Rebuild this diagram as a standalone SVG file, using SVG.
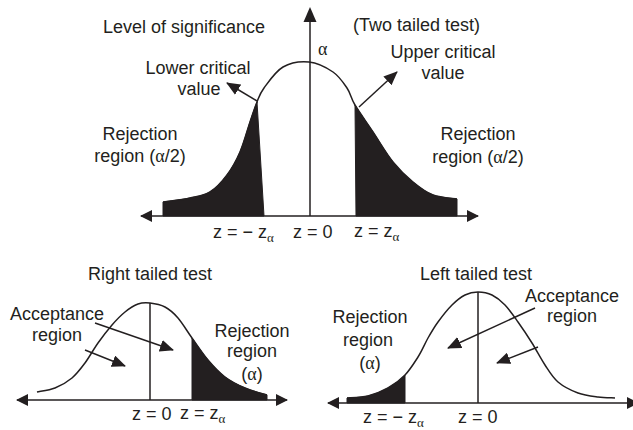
<svg xmlns="http://www.w3.org/2000/svg" width="633" height="430" viewBox="0 0 633 430">
<defs>
<style>
text{font-family:"Liberation Sans",Arial,sans-serif;font-size:18px;fill:#231f20}
.g{font-family:"Liberation Serif","DejaVu Serif",serif}
.sub{font-family:"Liberation Serif","DejaVu Serif",serif;font-size:13px}
.m{text-anchor:middle}
.ln{fill:none;stroke:#231f20;stroke-width:1.5}
.fill{fill:#231f20;stroke:#231f20;stroke-width:1}
.ax{fill:none;stroke:#231f20;stroke-width:1.6;marker-start:url(#axh);marker-end:url(#axh)}
.ar{fill:none;stroke:#231f20;stroke-width:1.5;marker-end:url(#ah)}
</style>
<marker id="ah" viewBox="0 0 14 12" refX="13" refY="6" markerUnits="userSpaceOnUse" markerWidth="14" markerHeight="12" orient="auto"><path d="M0,0 L14,6 L0,12 Z" fill="#231f20"/></marker>
<marker id="axh" viewBox="0 0 12 12" refX="11" refY="6" markerUnits="userSpaceOnUse" markerWidth="12" markerHeight="12" orient="auto-start-reverse"><path d="M0,0 L12,6 L0,12 Z" fill="#231f20"/></marker>
</defs>

<g id="two-tailed">
<path class="fill" d="M163,216 L163,202 C167.5,201.3 182.2,199.7 190,198 C197.8,196.3 203.8,195.8 210,192 C216.2,188.2 222,181.7 227,175 C232,168.3 236.2,160.8 240,152 C243.8,143.2 247.2,130.3 250,122 C252.8,113.7 254.7,107.7 257,102 L264,216 Z"/>
<path class="fill" d="M356,216 L355,105 C359.3,112.3 366.7,122.5 373,132 C379.3,141.5 386.3,153.7 393,162 C399.7,170.3 406.3,176.5 413,182 C419.7,187.5 425.7,192.2 433,195 C440.3,197.8 453,198.3 457,199 L457,216 Z"/>
<path class="ln" d="M163,202 C167.5,201.3 182.2,199.7 190,198 C197.8,196.3 203.8,195.8 210,192 C216.2,188.2 222,181.7 227,175 C232,168.3 236.2,160.8 240,152 C243.8,143.2 247.2,130.3 250,122 C252.8,113.7 254.7,107.7 257,102 C259.3,96.3 259.7,93.8 264,88 C268.3,82.2 275.5,71.3 283,67 C290.5,62.7 300.7,61.2 309,62 C317.3,62.8 326.7,67.7 333,72 C339.3,76.3 343.3,82.5 347,88 C350.7,93.5 350.7,97.7 355,105 C359.3,112.3 366.7,122.5 373,132 C379.3,141.5 386.3,153.7 393,162 C399.7,170.3 406.3,176.5 413,182 C419.7,187.5 425.7,192.2 433,195 C440.3,197.8 453,198.3 457,199"/>
<line class="ax" x1="141" y1="216" x2="478" y2="216"/>
<line x1="310" y1="216" x2="310" y2="20" stroke="#231f20" stroke-width="1.5"/>
<path d="M310,7 L303.5,22 L316.5,22 Z" fill="#231f20"/>
<text x="103" y="33">Level of significance</text>
<text x="353" y="31">(Two tailed test)</text>
<text class="g" x="318" y="55" font-size="15">α</text>
<text class="m" x="198" y="74">Lower critical</text>
<text class="m" x="199" y="95">value</text>
<text class="m" x="443" y="58">Upper critical</text>
<text class="m" x="443" y="79">value</text>
<text class="m" x="140" y="140">Rejection</text>
<text class="m" x="140" y="162">region (<tspan class="g">α</tspan>/2)</text>
<text class="m" x="478" y="140">Rejection</text>
<text class="m" x="478" y="163">region (<tspan class="g">α</tspan>/2)</text>
<text x="213" y="238">z = − z<tspan class="sub" dy="4">α</tspan></text>
<text x="293" y="238">z = 0</text>
<text x="354" y="237">z = z<tspan class="sub" dy="4">α</tspan></text>
</g>

<g id="right-tailed">
<path class="fill" d="M192,400 L192,338 C197,345 202.5,353.5 208,360 C213.5,366.5 218.8,372.3 225,377 C231.2,381.7 238,385 245,388 C252,391 263.3,393.8 267,395 L267,400 Z"/>
<path class="ln" d="M37,392 C40,391.3 49.2,390.3 55,388 C60.8,385.7 67,382.2 72,378 C77,373.8 80.7,368.8 85,363 C89.3,357.2 93.5,349.3 98,343 C102.5,336.7 107.5,330.2 112,325 C116.5,319.8 120.7,315.5 125,312 C129.3,308.5 133.8,305.5 138,304 C142.2,302.5 145.5,302.5 150,303 C154.5,303.5 160.3,304.5 165,307 C169.7,309.5 173.5,312.8 178,318 C182.5,323.2 187,331 192,338 C197,345 202.5,353.5 208,360 C213.5,366.5 218.8,372.3 225,377 C231.2,381.7 238,385 245,388 C252,391 263.3,393.8 267,395"/>
<line class="ax" x1="17" y1="400" x2="287" y2="400"/>
<line x1="150" y1="400" x2="150" y2="303" stroke="#231f20" stroke-width="1.5"/>
<text x="88" y="280">Right tailed test</text>
<text class="m" x="57" y="320">Acceptance</text>
<text class="m" x="57" y="341">region</text>
<text class="m" x="252" y="337">Rejection</text>
<text class="m" x="252" y="357">region</text>
<text class="m" x="252" y="380">(<tspan class="g">α</tspan>)</text>
<text x="132" y="420">z = 0</text>
<text x="180" y="419">z = z<tspan class="sub" dy="4">α</tspan></text>
</g>

<g id="left-tailed">
<path class="fill" d="M347,403 L347,398 C350.5,397.7 361.2,397.7 368,396 C374.8,394.3 381.8,391.5 388,388 C394.2,384.5 400,380.2 405,375 L405,403 Z"/>
<path class="ln" d="M347,398 C350.5,397.7 361.2,397.7 368,396 C374.8,394.3 381.8,391.5 388,388 C394.2,384.5 400,380.2 405,375 C410,369.8 414,363.2 418,357 C422,350.8 424.7,343.8 428,338 C431.3,332.2 434,327.5 438,322 C442,316.5 447.5,309.5 452,305 C456.5,300.5 460.7,297.2 465,295 C469.3,292.8 473.5,292 478,292 C482.5,292 487.5,292.8 492,295 C496.5,297.2 500.7,300.5 505,305 C509.3,309.5 513.5,315.7 518,322 C522.5,328.3 527.5,335.8 532,343 C536.5,350.2 540.7,358.5 545,365 C549.3,371.5 552.5,377.3 558,382 C563.5,386.7 571.3,390.5 578,393 C584.7,395.5 591.8,396.2 598,397 C604.2,397.8 612.2,397.8 615,398"/>
<line class="ax" x1="328" y1="403" x2="638" y2="403"/>
<line x1="478" y1="403" x2="478" y2="292" stroke="#231f20" stroke-width="1.5"/>
<text x="420" y="280">Left tailed test</text>
<text class="m" x="370" y="323">Rejection</text>
<text class="m" x="368" y="346">region</text>
<text class="m" x="370" y="369">(<tspan class="g">α</tspan>)</text>
<text class="m" x="572" y="302">Acceptance</text>
<text class="m" x="572" y="322">region</text>
<text x="363" y="423">z = − z<tspan class="sub" dy="4">α</tspan></text>
<text x="458" y="423">z = 0</text>
</g>

<g id="connectors">
<line class="ar" x1="257" y1="101" x2="227" y2="83"/>
<line class="ar" x1="359" y1="107" x2="397" y2="72"/>
<line class="ar" x1="85" y1="350" x2="125" y2="366"/>
<line class="ar" x1="95" y1="323" x2="173" y2="350"/>
<line class="ar" x1="535" y1="308" x2="448" y2="348"/>
<line class="ar" x1="538" y1="347" x2="497" y2="363"/>
</g>
</svg>
